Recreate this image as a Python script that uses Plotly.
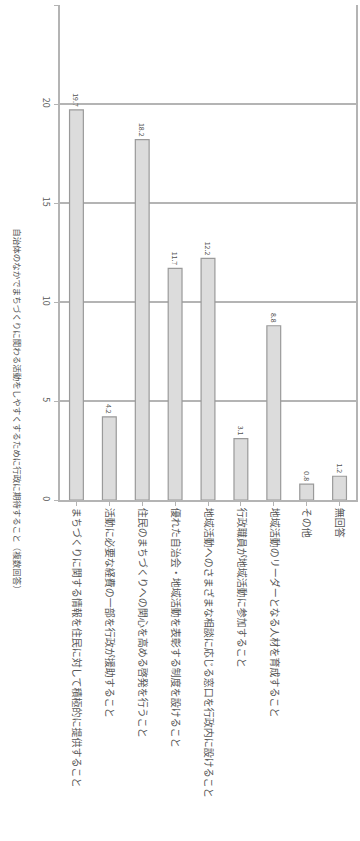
import plotly.graph_objects as go

# Survey responses (multiple answers allowed), percent of respondents
categories = [
    "まちづくりに関する情報を住民に対して積極的に提供すること",
    "活動に必要な経費の一部を行政が援助すること",
    "住民のまちづくりへの関心を高める啓発を行うこと",
    "優れた自治会・地域活動を表彰する制度を設けること",
    "地域活動へのさまざまな相談に応じる窓口を行政内に設けること",
    "行政職員が地域活動に参加すること",
    "地域活動のリーダーとなる人材を育成すること",
    "その他",
    "無回答",
]
values = [19.7, 4.2, 18.2, 11.7, 12.2, 3.1, 8.8, 0.8, 1.2]
value_ticks = [0, 5, 10, 15, 20, 25]
axis_title = "自治体のなかでまちづくりに関わる活動をしやすくするために行政に期待すること（複数回答）"

FONT = "Noto Sans CJK JP"
TEXT = "#555555"
GRID = "#b4b4b4"

fig = go.Figure(
    go.Bar(
        x=categories,
        y=values,
        width=0.42,
        marker=dict(color="#dcdcdc", line=dict(color="#9a9a9a", width=1.2)),
        text=[f"{v:.1f}" for v in values],
        textposition="outside",
        textangle=90,
        textfont=dict(family=FONT, size=7, color=TEXT),
        cliponaxis=False,
    )
)

fig.update_layout(
    width=360,
    height=841,
    margin=dict(l=60, r=2, t=5, b=341),
    paper_bgcolor="white",
    plot_bgcolor="white",
    showlegend=False,
    font=dict(family=FONT, color=TEXT),
    bargap=0.58,
)

fig.update_xaxes(
    tickangle=90,
    tickfont=dict(family=FONT, size=10, color=TEXT),
    showline=True,
    linecolor=GRID,
    linewidth=1.5,
    ticks="outside",
    ticklen=4,
    tickcolor=GRID,
    showgrid=False,
)

fig.update_yaxes(
    range=[0, 25],
    tickvals=value_ticks,
    ticktext=[str(t) for t in value_ticks],
    tickangle=90,
    tickfont=dict(family=FONT, size=9, color=TEXT),
    showgrid=True,
    gridcolor=GRID,
    gridwidth=1.5,
    showline=True,
    linecolor=GRID,
    linewidth=1.5,
    mirror=True,
    ticks="outside",
    ticklen=4,
    tickcolor=GRID,
    zeroline=False,
)

# Value-axis title, rotated and placed beside the axis
fig.add_annotation(
    text=axis_title,
    textangle=90,
    xref="paper",
    yref="paper",
    x=-0.14,
    y=0.18,
    xanchor="center",
    yanchor="middle",
    showarrow=False,
    font=dict(family=FONT, size=8.5, color=TEXT),
)

fig.write_html("out.html")
